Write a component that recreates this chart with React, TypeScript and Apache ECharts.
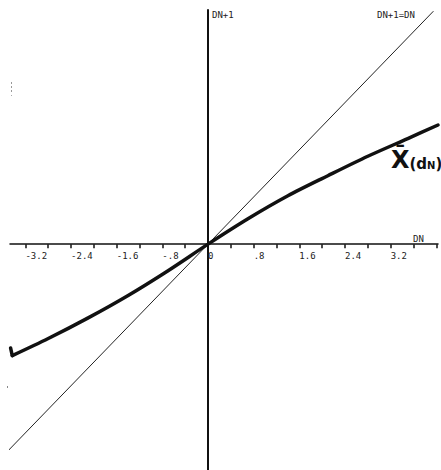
import React, { useEffect, useRef } from "react";
import * as echarts from "echarts";

// Thick curve X̄(dN): hook at the left end, then the main curve
const hookX = [-3.46, -3.43];
const hookY = [-1.76, -1.89];
const curveX = [-3.43, -2.8, -2.1, -1.4, -0.7, 0, 0.7, 1.4, 2.1, 2.8, 3.5, 4.03];
const curveY = [-1.89, -1.6, -1.25, -0.87, -0.45, 0, 0.43, 0.82, 1.16, 1.49, 1.79, 2.02];

// Identity line DN+1 = DN
const identityX = [-3.53, 3.95];
const identityY = [-3.53, 3.95];

// Axis ticks and labels
const xTickValues = [-3.2, -2.8, -2.4, -2.0, -1.6, -1.2, -0.8, -0.4, 0, 0.4, 0.8, 1.2, 1.6, 2.0, 2.4, 2.8, 3.2, 3.6, 4.0];
const xLabelValues = [-3.2, -2.4, -1.6, -0.8, 0, 0.8, 1.6, 2.4, 3.2];

const fmt = (v: number) => {
  if (Math.abs(v) < 1e-9) return "0";
  const s = Math.abs(v).toFixed(1).replace(/^0/, "");
  return (v < 0 ? "-" : "") + s;
};

export default function App() {
  const ref = useRef<HTMLDivElement>(null);
  useEffect(() => {
    if (!ref.current) return;
    const chart = echarts.init(ref.current, undefined, { renderer: "svg" });
    const mono = "DejaVu Sans Mono";
    const xMin = -3.47;
    const xMax = 4.03;
    chart.setOption({
      animation: false,
      backgroundColor: "#ffffff",
      grid: { left: 10, right: 3, top: 10, bottom: 0, containLabel: false, outerBoundsMode: "none" },
      xAxis: [
        {
          type: "value",
          min: xMin,
          max: xMax,
          splitLine: { show: false },
          axisLine: { show: true, onZero: true, lineStyle: { color: "#111", width: 1.5 } },
          axisTick: {
            show: true,
            length: 4,
            customValues: xTickValues,
            lineStyle: { color: "#111", width: 1.5 },
          },
          axisLabel: { show: false },
        },
        {
          type: "value",
          position: "bottom",
          offset: -226,
          min: xMin,
          max: xMax,
          splitLine: { show: false },
          axisLine: { show: false, onZero: false },
          axisTick: { show: false },
          axisLabel: {
            show: true,
            customValues: xLabelValues,
            formatter: fmt,
            align: "left",
            margin: 7,
            fontFamily: mono,
            fontSize: 9,
            color: "#222",
          },
        },
      ],
      yAxis: {
        type: "value",
        min: -3.83,
        max: 3.97,
        splitLine: { show: false },
        axisLine: { show: true, onZero: true, lineStyle: { color: "#111", width: 2 } },
        axisTick: { show: false },
        axisLabel: { show: false },
      },
      series: [
        {
          type: "line",
          data: identityX.map((x, i) => [x, identityY[i]]),
          showSymbol: false,
          clip: false,
          lineStyle: { color: "#222", width: 1 },
          silent: true,
        },
        {
          type: "line",
          data: hookX.map((x, i) => [x, hookY[i]]),
          showSymbol: false,
          lineStyle: { color: "#111", width: 3.5, cap: "round" },
          silent: true,
        },
        {
          type: "line",
          data: curveX.map((x, i) => [x, curveY[i]]),
          showSymbol: false,
          smooth: 0.3,
          lineStyle: { color: "#111", width: 3.5, join: "round", cap: "round" },
          silent: true,
        },
      ],
      graphic: [
        {
          type: "text",
          left: 212,
          top: 10,
          style: { text: "DN+1", fontFamily: mono, fontSize: 9, fill: "#222" },
        },
        {
          type: "text",
          left: 377,
          top: 10,
          style: { text: "DN+1=DN", fontFamily: mono, fontSize: 9, fill: "#222" },
        },
        {
          type: "text",
          left: 413,
          top: 234,
          style: { text: "DN", fontFamily: mono, fontSize: 9, fill: "#222" },
        },
        {
          type: "text",
          left: 391,
          top: 148,
          style: {
            text: "{a|X\u0304}{b|(d}{c|N}{b|)}",
            fill: "#111",
            rich: {
              a: { fontFamily: "DejaVu Sans", fontSize: 24, fontWeight: "bold", fill: "#111" },
              b: { fontFamily: "DejaVu Sans", fontSize: 15, fontWeight: "bold", fill: "#111", padding: [8, 0, 0, 0] },
              c: { fontFamily: "DejaVu Sans", fontSize: 10, fontWeight: "bold", fill: "#111", padding: [10, 0, 0, 0] },
            },
          },
        },
        { type: "rect", shape: { x: 11, y: 82, width: 1, height: 2 }, style: { fill: "#999" } },
        { type: "rect", shape: { x: 11, y: 86, width: 1, height: 2 }, style: { fill: "#999" } },
        { type: "rect", shape: { x: 11, y: 90, width: 1, height: 2 }, style: { fill: "#999" } },
        { type: "rect", shape: { x: 11, y: 95, width: 1, height: 1 }, style: { fill: "#aaa" } },
        { type: "rect", shape: { x: 7, y: 386, width: 1, height: 2 }, style: { fill: "#888" } },
      ],
    });
    return () => chart.dispose();
  }, []);
  return (
    <div
      ref={ref}
      style={{ position: "fixed", left: 0, top: 0, width: 441, height: 470, background: "#fff" }}
    />
  );
}
